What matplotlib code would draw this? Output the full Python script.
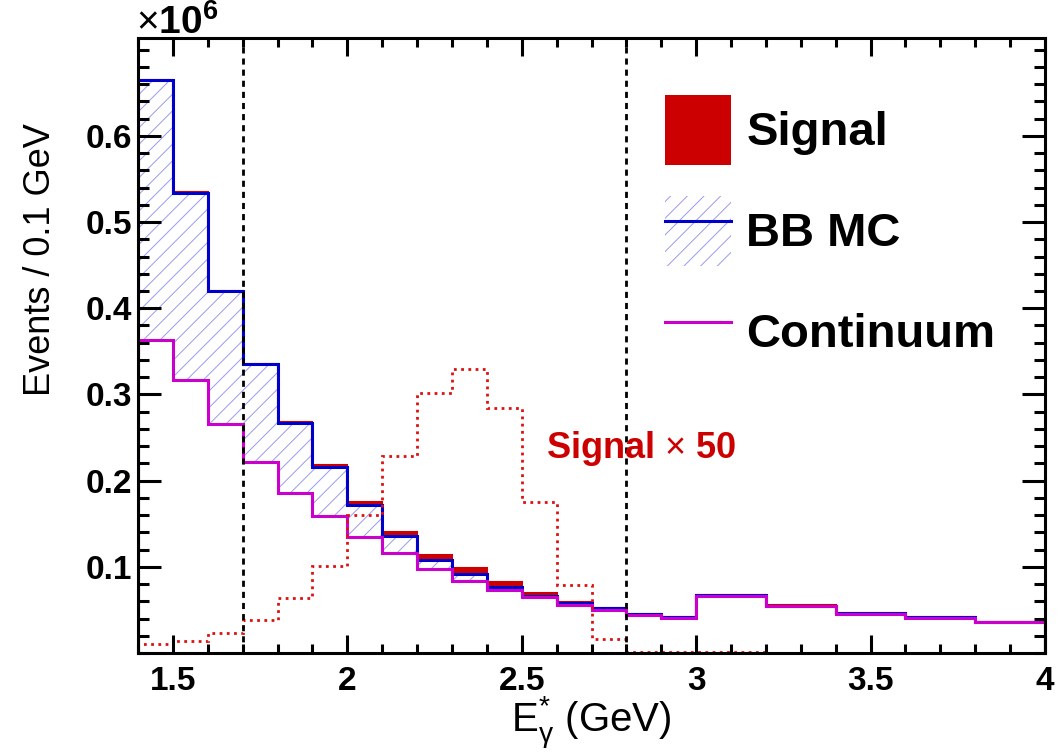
import numpy as np
import matplotlib
matplotlib.use("Agg")
import matplotlib.pyplot as plt
from matplotlib.patches import Patch
from matplotlib.lines import Line2D
from matplotlib.ticker import MultipleLocator, FixedLocator

plt.rcParams['font.family'] = ['Liberation Sans', 'DejaVu Sans']
plt.rcParams['font.weight'] = 'bold'
plt.rcParams['mathtext.fontset'] = 'custom'
plt.rcParams['mathtext.rm'] = 'Liberation Sans:weight=normal'
plt.rcParams['mathtext.it'] = 'Liberation Sans:italic:weight=normal'
plt.rcParams['mathtext.bf'] = 'Liberation Sans:weight=bold'
plt.rcParams['hatch.linewidth'] = 0.7

# bin edges (GeV): 0.1 wide up to 3.0, then 0.2 wide
edges = [1.4, 1.5, 1.6, 1.7, 1.8, 1.9, 2.0, 2.1, 2.2, 2.3, 2.4, 2.5, 2.6,
         2.7, 2.8, 2.9, 3.0, 3.2, 3.4, 3.6, 3.8, 4.0]

# events / 0.1 GeV
continuum = [363000, 317000, 266000, 222000, 186000, 159000, 135000, 116000,
             97500, 83500, 73000, 64500, 55500, 50000, 44500, 41000,
             66500, 54500, 45500, 41000, 36000]
bbmc = [302000, 217000, 154000, 113000, 81000, 57000, 37000, 19500,
        10000, 8000, 3600, 1500, 2500, 2000, 800, 500,
        800, 600, 400, 300, 200]
signal = [208, 278, 460, 770, 1280, 2030, 3200, 4580, 6040, 6580, 5680,
          3500, 1570, 320, 24, 16, 12, 10, 8, 6, 6]
signal_scale = 50
cuts = [1.7, 2.8]
unit = 1e6

cont = np.array(continuum) / unit
bb_top = cont + np.array(bbmc) / unit
sig_top = bb_top + np.array(signal) / unit
sig_scaled = np.array(signal) * signal_scale / unit

red = '#cc0000'
blue = '#0000cc'
magenta = '#cc00cc'
hatch_col = '#9a9af2'

W, H = 1060, 756
fig = plt.figure(figsize=(W / 100, H / 100), dpi=100)
ax = fig.add_axes([138 / W, 1 - 653 / H, (1045 - 138) / W, (653 - 38) / H])

# stacked histograms
ax.stairs(sig_top, edges, baseline=bb_top, fill=True, color=red, lw=0)
ax.stairs(sig_top, edges, baseline=None, color=red, lw=1.5)
ax.stairs(bb_top, edges, baseline=cont, fill=True, facecolor='none',
          edgecolor=hatch_col, hatch='//', lw=0)
ax.stairs(bb_top, edges, color=blue, lw=2.2)
ax.stairs(cont, edges, color=magenta, lw=2.2)
ax.stairs(sig_scaled, edges, color='#dd1111', lw=2, linestyle=(0, (1, 1.6)))

for c in cuts:
    ax.axvline(c, color='black', lw=2, linestyle=(0, (2.2, 1.8)))

ax.set_xlim(edges[0], edges[-1])
ax.set_ylim(0, 0.7135)
ax.xaxis.set_major_locator(MultipleLocator(0.5))
ax.xaxis.set_minor_locator(MultipleLocator(0.1))
ax.yaxis.set_major_locator(FixedLocator([0.1, 0.2, 0.3, 0.4, 0.5, 0.6]))
ax.yaxis.set_minor_locator(MultipleLocator(0.02))
ax.xaxis.set_major_formatter('{x:g}')
ax.yaxis.set_major_formatter('{x:g}')

ax.tick_params(which='both', direction='in', top=True, right=True,
               width=2.2, labelsize=24)
ax.tick_params(axis='y', which='major', length=16.5, pad=4)
ax.tick_params(axis='y', which='minor', length=8)
ax.tick_params(axis='x', which='major', length=13, pad=9)
ax.tick_params(axis='x', which='minor', length=6.5)
for s in ax.spines.values():
    s.set_linewidth(2.2)

ax.set_xlabel(r'$\mathrm{E}^{*}_{\mathrm{\gamma}}$ (GeV)', fontsize=29, fontweight='normal')
ax.xaxis.set_label_coords(0.5, -0.068)
ax.set_ylabel('Events / 0.1 GeV', fontsize=26, fontweight='normal')
ax.yaxis.set_label_coords(-0.088, 0.64)

fig.text(136 / W, 1 - 34 / H, r'$\times\mathbf{10^{6}}$', fontsize=28, va='baseline')
ax.text(2.57, 0.226, r'Signal $\times$ 50', color=red, fontsize=26, fontweight='bold')

handles = [Patch(facecolor=red, edgecolor=red, lw=0),
           (Patch(facecolor='none', edgecolor=hatch_col, hatch='//', lw=0),
            Line2D([], [], color=blue, lw=2.2)),
           Line2D([], [], color=magenta, lw=2.2)]
ax.legend(handles, ['Signal', 'BB MC', 'Continuum'], loc='upper left',
          bbox_to_anchor=(665 / W, 1 - 95 / H), bbox_transform=fig.transFigure,
          frameon=False, prop={'size': 34, 'weight': 'bold'},
          handlelength=1.4, handleheight=1.9, labelspacing=0.66,
          handletextpad=0.32, borderpad=0, borderaxespad=0)

fig.savefig('out.png', dpi=100)
